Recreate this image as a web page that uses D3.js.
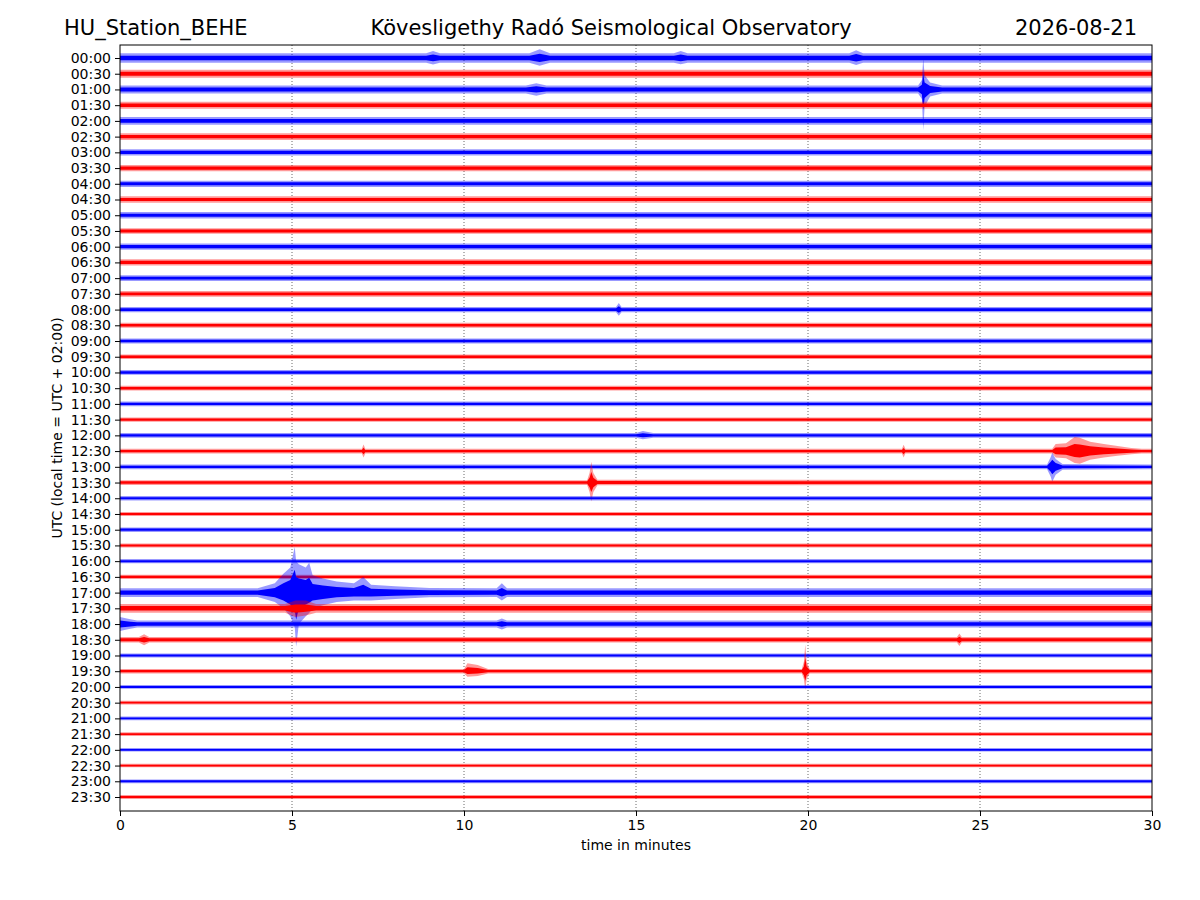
<!DOCTYPE html>
<html>
<head>
<meta charset="utf-8">
<script src="https://cdn.jsdelivr.net/npm/d3@7"></script>
<style>
  body { margin: 0; background: #fff; }
  svg text { font-family: "DejaVu Sans", sans-serif; fill: #000; }
  .axis path, .axis line { stroke: #000; }
</style>
</head>
<body>
<svg width="1200" height="900"></svg>
<script>
// tick labels, one per 30 minute row
var rowLabels = ["00:00","00:30","01:00","01:30","02:00","02:30","03:00","03:30",
  "04:00","04:30","05:00","05:30","06:00","06:30","07:00","07:30",
  "08:00","08:30","09:00","09:30","10:00","10:30","11:00","11:30",
  "12:00","12:30","13:00","13:30","14:00","14:30","15:00","15:30",
  "16:00","16:30","17:00","17:30","18:00","18:30","19:00","19:30",
  "20:00","20:30","21:00","21:30","22:00","22:30","23:00","23:30"];

// background noise half-width per row (in row spacings)
var noiseLevel = [0.30,0.25,0.25,0.22,0.24,0.22,0.20,0.20,
  0.20,0.20,0.20,0.18,0.20,0.20,0.18,0.18,
  0.17,0.16,0.16,0.15,0.15,0.15,0.15,0.14,
  0.15,0.15,0.15,0.15,0.14,0.13,0.14,0.13,
  0.13,0.14,0.28,0.28,0.22,0.18,0.13,0.14,
  0.12,0.12,0.12,0.12,0.11,0.11,0.12,0.12];

var xTicks = [0, 5, 10, 15, 20, 25, 30];

// events: [minute, up, down]
var events = [
  {row: 0, pts: [[8.9,0.3,0.3],[9.1,0.45,0.42],[9.3,0.3,0.3]]},
  {row: 0, pts: [[11.9,0.3,0.3],[12.2,0.55,0.5],[12.5,0.3,0.3]]},
  {row: 0, pts: [[16.1,0.3,0.3],[16.3,0.45,0.4],[16.5,0.3,0.3]]},
  {row: 0, pts: [[21.2,0.3,0.3],[21.4,0.5,0.45],[21.6,0.3,0.3]]},
  {row: 2, pts: [[11.8,0.25,0.25],[12.1,0.4,0.4],[12.4,0.25,0.25]]},
  {row: 2, pts: [[23.2,0.25,0.25],[23.31,0.6,0.6],[23.35,2.0,2.6],[23.39,0.9,1.1],[23.55,0.45,0.45],[23.9,0.25,0.25]]},
  {row: 16, pts: [[14.42,0.17,0.17],[14.5,0.42,0.4],[14.58,0.17,0.17]]},
  {row: 24, pts: [[15.0,0.15,0.15],[15.2,0.28,0.25],[15.5,0.15,0.15]]},
  {row: 25, pts: [[7.03,0.15,0.15],[7.08,0.42,0.4],[7.13,0.15,0.15]]},
  {row: 25, pts: [[22.73,0.15,0.15],[22.78,0.4,0.4],[22.83,0.15,0.15]]},
  {row: 25, pts: [[27.1,0.15,0.15],[27.2,0.45,0.4],[27.5,0.5,0.45],[27.75,0.9,0.75],[27.9,0.85,0.8],[28.2,0.6,0.55],[28.6,0.45,0.4],[29.0,0.32,0.3],[29.4,0.2,0.2],[29.7,0.15,0.15]]},
  {row: 26, pts: [[26.95,0.15,0.15],[27.05,0.6,0.6],[27.1,0.9,0.95],[27.2,0.5,0.5],[27.4,0.18,0.18]]},
  {row: 27, pts: [[13.58,0.15,0.15],[13.65,0.6,0.6],[13.7,1.33,1.2],[13.76,0.6,0.6],[13.88,0.18,0.18]]},
  {row: 34, pts: [[4.0,0.28,0.28],[4.5,0.6,0.6],[4.75,1.2,1.0],[4.95,1.6,1.5],[5.08,2.9,2.2],[5.12,2.0,3.45],[5.2,1.8,2.0],[5.4,1.6,1.5],[5.5,1.9,1.3],[5.6,1.1,1.0],[5.9,0.9,0.8],[6.3,0.7,0.6],[6.8,0.6,0.5],[7.07,1.0,0.5],[7.3,0.5,0.5],[8.0,0.4,0.4],[9.0,0.3,0.3]]},
  {row: 34, pts: [[10.95,0.28,0.28],[11.1,0.6,0.5],[11.25,0.28,0.28]]},
  {row: 35, pts: [[4.8,0.28,0.28],[5.1,0.5,0.55],[5.4,0.5,0.45],[5.7,0.28,0.28]]},
  {row: 36, pts: [[0,0.45,0.45],[0.3,0.3,0.3],[0.5,0.22,0.22]]},
  {row: 36, pts: [[10.95,0.22,0.22],[11.1,0.35,0.35],[11.25,0.22,0.22]]},
  {row: 37, pts: [[0.55,0.18,0.18],[0.7,0.35,0.35],[0.85,0.18,0.18]]},
  {row: 37, pts: [[24.33,0.18,0.18],[24.4,0.4,0.4],[24.47,0.18,0.18]]},
  {row: 39, pts: [[10.0,0.14,0.14],[10.1,0.5,0.35],[10.4,0.4,0.3],[10.7,0.14,0.14]]},
  {row: 39, pts: [[19.82,0.14,0.14],[19.88,0.6,0.5],[19.92,1.7,1.2],[19.96,0.6,0.5],[20.05,0.14,0.14]]}
];

var svg = d3.select("svg"),
    margin = {top: 45, right: 48, bottom: 89, left: 120},
    width = 1200 - margin.left - margin.right,
    height = 900 - margin.top - margin.bottom,
    g = svg.append("g").attr("transform", "translate(" + margin.left + "," + margin.top + ")");

var x = d3.scaleLinear().domain([0, 30]).range([0, width]);
var y = d3.scaleLinear().domain([-0.827, 47.89]).range([0, height]);

g.append("defs").append("clipPath")
    .attr("id", "clip")
  .append("rect")
    .attr("width", width)
    .attr("height", height);

// dotted grid
g.append("g").selectAll("line")
    .data(xTicks.slice(1, -1))
  .enter().append("line")
    .attr("x1", function(d) { return x(d); })
    .attr("x2", function(d) { return x(d); })
    .attr("y1", 0)
    .attr("y2", height)
    .attr("stroke", "#444")
    .attr("stroke-width", 0.8)
    .attr("stroke-dasharray", "1,2");

function envelope(row) {
  var pts = [];
  events.filter(function(e) { return e.row === row; })
        .forEach(function(e) { pts = pts.concat(e.pts); });
  pts.sort(function(a, b) { return a[0] - b[0]; });
  var b = noiseLevel[row];
  if (!pts.length || pts[0][0] > 0) pts.unshift([0, b, b]);
  if (pts[pts.length - 1][0] < 30) pts.push([30, b, b]);
  return pts;
}

var traces = g.append("g").attr("clip-path", "url(#clip)");

rowLabels.forEach(function(label, i) {
  var color = i % 2 === 0 ? "#0000ff" : "#ff0000";
  var pts = envelope(i);
  var outer = d3.area()
      .x(function(d) { return x(d[0]); })
      .y0(function(d) { return y(i + d[2]); })
      .y1(function(d) { return y(i - d[1]); });
  var inner = d3.area()
      .x(function(d) { return x(d[0]); })
      .y0(function(d) { return y(i + d[2] * 0.5); })
      .y1(function(d) { return y(i - d[1] * 0.5); });
  traces.append("path").datum(pts)
      .attr("d", outer)
      .attr("fill", color)
      .attr("fill-opacity", 0.4);
  traces.append("path").datum(pts)
      .attr("d", inner)
      .attr("fill", color);
});

// axes
g.append("g")
    .attr("class", "axis")
    .attr("transform", "translate(0," + height + ")")
    .call(d3.axisBottom(x).tickValues(xTicks).tickSize(5).tickPadding(4))
    .call(function(s) { s.selectAll("text").attr("font-size", 14); s.select(".domain").remove(); });

g.append("g")
    .attr("class", "axis")
    .call(d3.axisLeft(y).tickValues(d3.range(rowLabels.length))
      .tickFormat(function(i) { return rowLabels[i]; }).tickSize(5).tickPadding(4))
    .call(function(s) { s.selectAll("text").attr("font-size", 14); s.select(".domain").remove(); });

g.append("rect")
    .attr("width", width)
    .attr("height", height)
    .attr("fill", "none")
    .attr("stroke", "#000")
    .attr("stroke-width", 1);

// labels
g.append("text")
    .attr("x", width / 2)
    .attr("y", height + 39)
    .attr("text-anchor", "middle")
    .attr("font-size", 14)
    .text("time in minutes");

svg.append("text")
    .attr("transform", "translate(62," + (margin.top + height / 2) + ") rotate(-90)")
    .attr("text-anchor", "middle")
    .attr("font-size", 14)
    .text("UTC (local time = UTC + 02:00)");

svg.append("text").attr("x", 64).attr("y", 35).attr("font-size", 21)
    .text("HU_Station_BEHE");
svg.append("text").attr("x", 611).attr("y", 35).attr("font-size", 21)
    .attr("text-anchor", "middle")
    .text("Kövesligethy Radó Seismological Observatory");
svg.append("text").attr("x", 1137).attr("y", 35).attr("font-size", 21)
    .attr("text-anchor", "end")
    .text("2026-08-21");
</script>
</body>
</html>
